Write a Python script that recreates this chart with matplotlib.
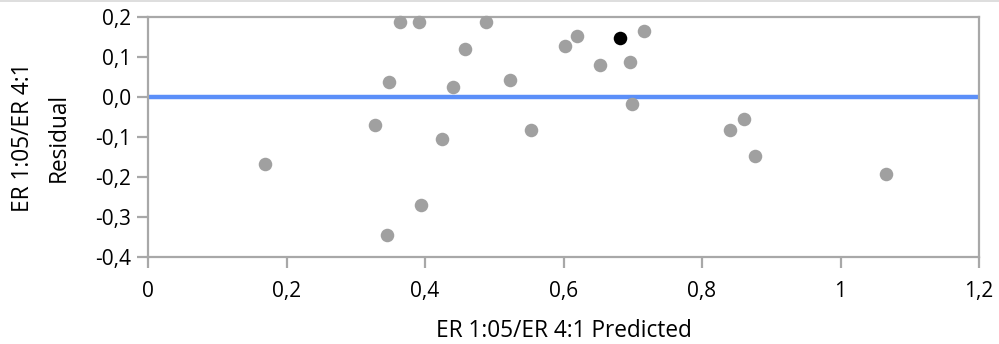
import numpy as np
import matplotlib.pyplot as plt
from matplotlib.lines import Line2D

plt.rcParams['font.family'] = ['Open Sans', 'DejaVu Sans']

# predicted values and residuals
predicted = [0.169, 0.328, 0.348, 0.345, 0.364, 0.391, 0.394, 0.425, 0.440, 0.458,
             0.488, 0.523, 0.553, 0.602, 0.620, 0.653, 0.696, 0.699, 0.716,
             0.840, 0.861, 0.877, 1.066]
residual = [-0.168, -0.070, 0.038, -0.345, 0.188, 0.188, -0.271, -0.105, 0.025, 0.120,
            0.188, 0.042, -0.082, 0.128, 0.152, 0.080, 0.087, -0.018, 0.164,
            -0.082, -0.054, -0.148, -0.193]
# highlighted row
sel_predicted = [0.681]
sel_residual = [0.147]

xticks = [0, 0.2, 0.4, 0.6, 0.8, 1.0, 1.2]
xticklabels = ['0', '0,2', '0,4', '0,6', '0,8', '1', '1,2']
yticks = [-0.4, -0.3, -0.2, -0.1, 0.0, 0.1, 0.2]
yticklabels = ['-0,4', '-0,3', '-0,2', '-0,1', '0,0', '0,1', '0,2']

fig = plt.figure(figsize=(9.99, 3.44), dpi=100)
ax = fig.add_axes([148/999, 87/344, 831/999, 240/344])

ax.axhline(0, color='#5b8ff9', linewidth=3.2, zorder=2)
ax.scatter(predicted, residual, s=95, color='#a0a0a0', linewidths=0, zorder=3, clip_on=False)
ax.scatter(sel_predicted, sel_residual, s=95, color='black', linewidths=0, zorder=4)

ax.set_xlim(0, 1.2)
ax.set_ylim(-0.4, 0.2)
ax.set_xticks(xticks)
ax.set_xticklabels(xticklabels)
ax.set_yticks(yticks)
ax.set_yticklabels(yticklabels)

for s in ax.spines.values():
    s.set_color('#a8a8a8')
    s.set_linewidth(1.6)
ax.tick_params(axis='both', direction='out', length=8, width=1.6, color='#a8a8a8',
               labelsize=15, labelcolor='black')
ax.tick_params(axis='x', pad=9)
ax.tick_params(axis='y', pad=4)

ax.set_xlabel('ER 1:05/ER 4:1 Predicted', fontsize=16.3, va='baseline')
ax.xaxis.set_label_coords(0.5, -0.333)
ax.set_ylabel('ER 1:05/ER 4:1\nResidual', fontsize=16.3, va='center', linespacing=1.65)
ax.yaxis.set_label_coords(-0.129, 0.5)

# thin frame line along the top edge
fig.add_artist(Line2D([0, 1], [0.998, 0.998], transform=fig.transFigure,
                      color='#d8d8d8', linewidth=1.2))

fig.savefig('out.png', dpi=100)
